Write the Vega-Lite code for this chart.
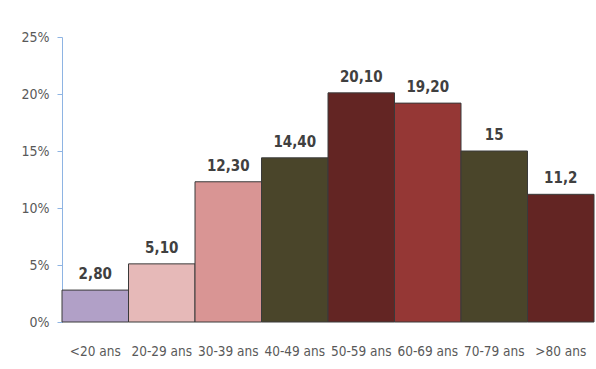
{
  "$schema": "https://vega.github.io/schema/vega-lite/v6.json",
  "width": 532,
  "height": 285,
  "autosize": {"type": "none"},
  "padding": {"left": 62, "top": 37, "right": 2, "bottom": 47},
  "background": "white",
  "config": {"view": {"stroke": null}, "font": "'DejaVu Sans Condensed', 'Liberation Sans', sans-serif"},
  "data": {"values": [
    {"age": "<20 ans", "value": 2.8, "label": "2,80", "color": "#B1A0C7"},
    {"age": "20-29 ans", "value": 5.1, "label": "5,10", "color": "#E6B9B8"},
    {"age": "30-39 ans", "value": 12.3, "label": "12,30", "color": "#D99594"},
    {"age": "40-49 ans", "value": 14.4, "label": "14,40", "color": "#4A452A"},
    {"age": "50-59 ans", "value": 20.1, "label": "20,10", "color": "#632523"},
    {"age": "60-69 ans", "value": 19.2, "label": "19,20", "color": "#953735"},
    {"age": "70-79 ans", "value": 15, "label": "15", "color": "#4A452A"},
    {"age": ">80 ans", "value": 11.2, "label": "11,2", "color": "#632523"}
  ]},
  "encoding": {
    "x": {"field": "age", "type": "nominal", "sort": null,
      "scale": {"paddingInner": 0, "paddingOuter": 0},
      "axis": {"title": null, "labelAngle": 0, "domain": false, "ticks": false, "labelPadding": 22, "labelFontSize": 13.5, "labelColor": "#595959"}},
    "y": {"field": "value", "type": "quantitative",
      "scale": {"domain": [0, 25]},
      "axis": {"title": null, "values": [0, 5, 10, 15, 20, 25], "labelExpr": "datum.value + '%'", "grid": false,
        "domainColor": "#8EB4E3", "tickColor": "#8EB4E3", "tickSize": 5, "labelPadding": 8, "labelFontSize": 14, "labelColor": "#595959"}}
  },
  "layer": [
    {"mark": {"type": "bar", "stroke": "#3a3a3a", "strokeWidth": 1},
     "encoding": {"color": {"field": "color", "type": "nominal", "scale": null}}},
    {"mark": {"type": "text", "baseline": "bottom", "dy": -8, "fontSize": 15, "fontWeight": "bold", "color": "#404040"},
     "encoding": {"text": {"field": "label"}}}
  ]
}
